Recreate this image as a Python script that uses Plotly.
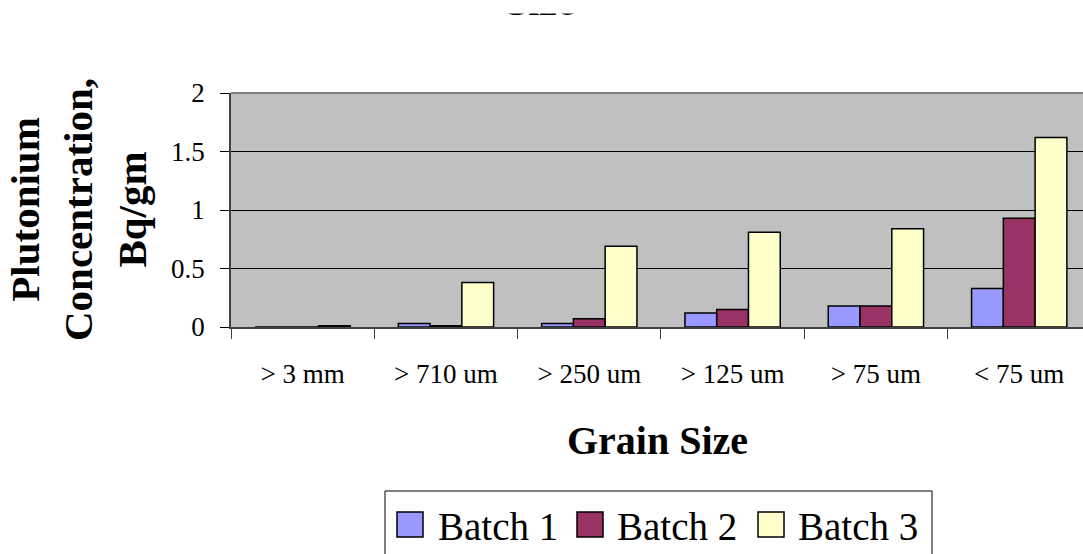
import plotly.graph_objects as go

# Grain-size fractions and plutonium concentration (Bq/gm) for three batches
grain_sizes = ["> 3 mm", "> 710 um", "> 250 um", "> 125 um", "> 75 um", "< 75 um"]
batch_1 = [0, 0.03, 0.03, 0.12, 0.18, 0.33]
batch_2 = [0, 0.01, 0.07, 0.15, 0.18, 0.93]
batch_3 = [0.01, 0.38, 0.69, 0.81, 0.84, 1.62]
y_ticks = [0, 0.5, 1, 1.5, 2]
y_tick_text = ["0", "0.5", "1", "1.5", "2"]

series = [
    ("Batch 1", batch_1, "#9999FF"),
    ("Batch 2", batch_2, "#993366"),
    ("Batch 3", batch_3, "#FFFFCC"),
]

SERIF = "Liberation Serif, Times New Roman, serif"

# plot area in pixels, used to place the legend box in paper units
W, H = 1083, 554
L, R, T, B = 231, 0, 93, 227
PW, PH = W - L - R, H - T - B


def px_x(px):
    return (px - L) / PW


def px_y(py):
    return (H - B - py) / PH


fig = go.Figure()
for name, values, color in series:
    fig.add_trace(go.Bar(
        name=name,
        x=grain_sizes,
        y=values,
        marker=dict(color=color, line=dict(color="black", width=1.5)),
    ))

shapes = [
    # plot-area top border
    dict(type="line", xref="paper", yref="paper", x0=0, x1=1, y0=1, y1=1,
         line=dict(color="#808080", width=2)),
    # legend frame
    dict(type="rect", xref="paper", yref="paper",
         x0=px_x(385), x1=px_x(932), y0=px_y(570), y1=px_y(491),
         line=dict(color="black", width=1), fillcolor="white", layer="below"),
]
annotations = [
    # chart title, last line
    dict(text="<b>Size</b>", xref="paper", yref="paper",
         x=px_x(540), y=px_y(25), xanchor="center", yanchor="bottom",
         borderpad=0,
         showarrow=False, font=dict(family=SERIF, size=40, color="black")),
    # white band along the top edge of the page, over the title
    dict(text=".", xref="paper", yref="paper",
         x=px_x(540), y=px_y(-2), xanchor="center", yanchor="top",
         width=150, height=14, bgcolor="white", borderpad=0,
         showarrow=False, font=dict(size=8, color="white")),
    # y-axis title
    dict(text="<b>Plutonium<br>Concentration,<br>Bq/gm</b>",
         xref="paper", yref="paper", x=px_x(78), y=0.5,
         xanchor="center", yanchor="middle", textangle=-90,
         showarrow=False, font=dict(family=SERIF, size=41, color="black")),
    # x-axis title
    dict(text="<b>Grain Size</b>", xref="paper", yref="paper",
         x=0.5, y=px_y(440), xanchor="center", yanchor="middle",
         showarrow=False, font=dict(family=SERIF, size=40, color="black")),
]

# legend entries: colour key square followed by the series name
key_left = [397, 577, 758]
text_left = [437, 616, 797]
for (name, _, color), kx, tx in zip(series, key_left, text_left):
    shapes.append(dict(
        type="rect", xref="paper", yref="paper",
        x0=px_x(kx), x1=px_x(kx + 26), y0=px_y(537), y1=px_y(512),
        line=dict(color="black", width=1.5), fillcolor=color))
    annotations.append(dict(
        text=name, xref="paper", yref="paper",
        x=px_x(tx), y=px_y(526), xanchor="left", yanchor="middle",
        showarrow=False, borderpad=0,
        font=dict(family=SERIF, size=39, color="black")))

fig.update_layout(
    width=W,
    height=H,
    margin=dict(l=L, r=R, t=T, b=B),
    paper_bgcolor="white",
    plot_bgcolor="#C0C0C0",
    barmode="group",
    bargap=0.335,
    bargroupgap=0,
    font=dict(family=SERIF, color="black"),
    showlegend=False,
    xaxis=dict(
        type="category",
        range=[-0.5, 5.445],
        tickson="boundaries",
        ticks="outside",
        ticklen=10,
        tickcolor="#404040",
        showline=True,
        linecolor="#404040",
        linewidth=1.5,
        showgrid=False,
        tickfont=dict(family=SERIF, size=27, color="black"),
        ticklabelstandoff=22,
    ),
    yaxis=dict(
        range=[0, 2],
        tickvals=y_ticks,
        ticktext=y_tick_text,
        ticks="outside",
        ticklen=9,
        tickcolor="black",
        showline=True,
        linecolor="#404040",
        linewidth=1.5,
        showgrid=True,
        gridcolor="black",
        gridwidth=1,
        zeroline=False,
        tickfont=dict(family=SERIF, size=27, color="black"),
        ticklabelstandoff=10,
    ),
    shapes=shapes,
    annotations=annotations,
)

fig.write_html("out.html")
